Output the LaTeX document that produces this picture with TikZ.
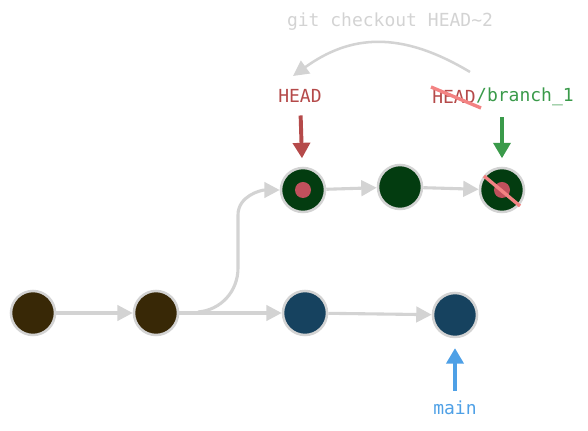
\documentclass[tikz,border=0pt]{standalone}
\usepackage{fontspec}
\setmonofont{DejaVu Sans Mono}
\usepackage{tikz}
\usetikzlibrary{positioning}
\usetikzlibrary{arrows.meta}

\definecolor{edgeGray}{HTML}{D3D3D3}
\definecolor{baseBrown}{HTML}{382806}
\definecolor{mainBlue}{HTML}{16425F}
\definecolor{branchGreen}{HTML}{033C10}
\definecolor{headRed}{HTML}{B54A4A}
\definecolor{dotRed}{HTML}{C0505C}
\definecolor{strikePink}{HTML}{F38383}
\definecolor{labelGreen}{HTML}{3A9A4A}
\definecolor{labelBlue}{HTML}{4EA0E6}

\begin{document}
\begin{tikzpicture}[x=0.025cm,y=-0.025cm,
  commit/.style={circle, draw=edgeGray, line width=1.8pt, minimum size=1.1cm, fill=#1},
  headdot/.style={circle, fill=dotRed, minimum size=0.4cm, inner sep=0pt},
  edge/.style={draw=edgeGray, line width=2.2pt, -{Triangle[length=11pt,width=11pt]}},
  pointer/.style={draw=#1, line width=2.8pt, -{Triangle[length=11pt,width=12pt]}},
  reflabel/.style={font=\ttfamily\fontsize{12.8}{15}\selectfont, text=#1, inner sep=1pt}
 ]
\useasboundingbox (0,0) rectangle (588,431);

% commits
\node[commit=baseBrown] (base1) at (33,313) {};
\node[commit=baseBrown] (base2) at (156,313) {};
\node[commit=mainBlue] (main1) at (305,313) {};
\node[commit=mainBlue] (main2) at (455,315) {};
\node[commit=branchGreen] (branch1) at (303,190) {};
\node[commit=branchGreen] (branch2) at (400,187) {};
\node[commit=branchGreen] (branch3) at (502,190) {};
\node[headdot] (dot1) at (branch1) {};
\node[headdot] (dot3) at (branch3) {};
\draw[strikePink, line width=2.4pt] (484,176) -- (520,206);

% history
\draw[edge] (base1) -- (base2);
\draw[edge] (base2) -- (main1);
\draw[edge] (main1) -- (main2);
\draw[edge] (branch1) -- (branch2);
\draw[edge] (branch2) -- (branch3);
\coordinate (fork) at (198,312);
\draw[edge] (fork) to[out=5,in=-90] (238,268) -- (238,215) to[out=90,in=180] (branch1.west);

% refs
\node[reflabel=headRed] (headLabel) at (300,96) {HEAD};
\node[reflabel=headRed, inner xsep=0pt] (oldHead) at (454,97) {HEAD};
\node[reflabel=labelGreen, inner xsep=0pt, right=0pt of oldHead] (branchLabel) {/branch\_1};
\draw[strikePink, line width=2.4pt] (431,87) -- (481,108);
\node[reflabel=labelBlue] (mainLabel) at (455,408) {main};

\draw[pointer=headRed, shorten <=8pt, shorten >=6pt] (headLabel) -- (branch1);
\draw[pointer=labelGreen, shorten <=7pt, shorten >=6pt] (branch3 |- branchLabel.south) -- (branch3);
\draw[pointer=labelBlue, shorten <=6pt, shorten >=7pt] (mainLabel) -- (main2);

% checkout
\node[reflabel=edgeGray] (checkout) at (390,22) {git checkout HEAD\textasciitilde 2};
\coordinate (checkoutFrom) at (470,72);
\coordinate (checkoutTo) at (293,76);
\draw[edge, line width=1.8pt] (checkoutFrom) .. controls (400,30) and (350,35) .. (checkoutTo);

\end{tikzpicture}
\end{document}
